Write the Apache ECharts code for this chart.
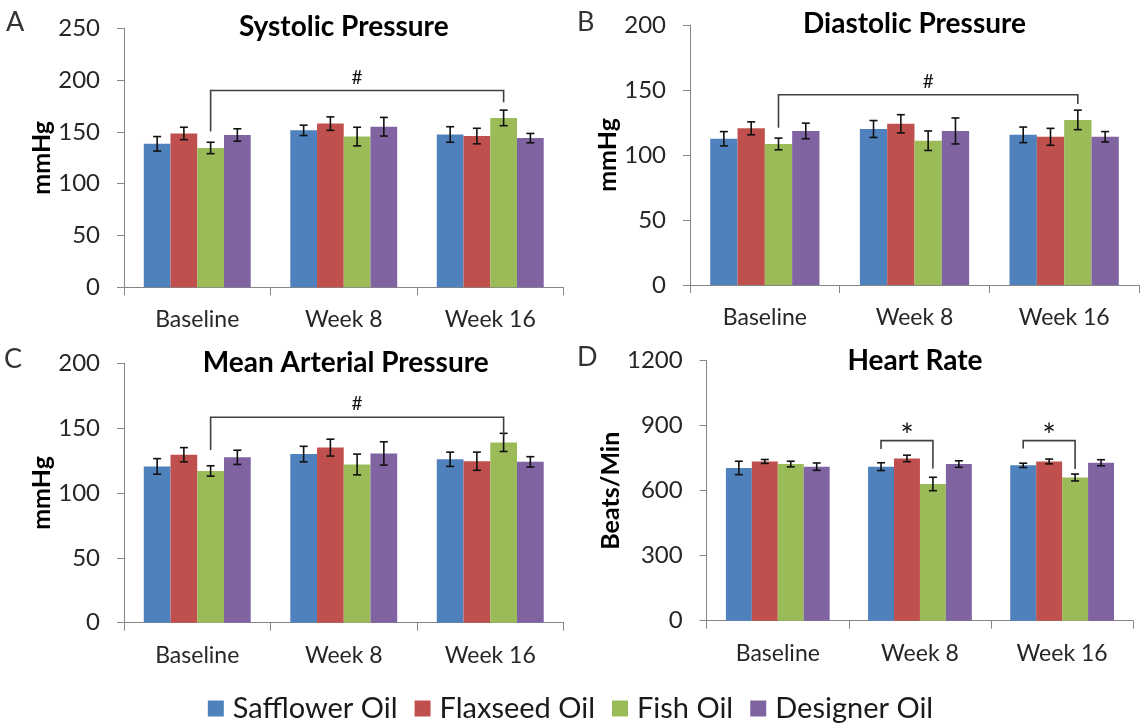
<!DOCTYPE html>
<html>
<head>
<meta charset="utf-8">
<script src="https://cdn.jsdelivr.net/npm/echarts@6/dist/echarts.min.js"></script>
<style>
html,body{margin:0;padding:0;background:#fff;}
#chart{width:1141px;height:724px;}
</style>
</head>
<body>
<div id="chart"></div>
<script>
// ---------- DATA ----------
const categories = ['Baseline', 'Week 8', 'Week 16'];
const oils = ['Safflower Oil', 'Flaxseed Oil', 'Fish Oil', 'Designer Oil'];

// each row = one oil, values for [Baseline, Week 8, Week 16]
const systolicMean = [[138.5, 151.5, 147.5], [148.5, 158, 146], [134.5, 145.5, 163.5], [147, 155, 144]];
const systolicErr  = [[7, 5, 7.5], [6, 6.5, 7.5], [5.5, 9, 7.5], [6, 9, 4.5]];
const diastolicMean = [[112.5, 120, 115.5], [120.5, 124, 114], [108.5, 111, 127], [118.5, 118.5, 114]];
const diastolicErr  = [[5.5, 6.5, 6], [5, 7, 6.5], [4.5, 7.5, 7.5], [6, 10, 4]];
const mapMean = [[120.5, 130, 126], [129.5, 135, 124.5], [117, 122, 139], [127.5, 130.5, 124]];
const mapErr  = [[6, 6, 5.5], [5.5, 6.5, 7], [4, 8, 7], [5.5, 9, 4]];
const hrMean = [[705, 711, 717], [735, 749, 735], [723, 631, 661], [711, 723, 729]];
const hrErr  = [[31, 18, 10], [9, 15, 11], [13, 31, 16], [17, 15, 14]];

// brackets: [category1, oil1, category2, oil2, top value, left leg end, right leg end]
const systolicBracket = [[0, 2, 2, 2, 190, 150.5, 178.5]];
const diastolicBracket = [[0, 2, 2, 2, 146.4, 121, 139.2]];
const mapBracket = [[0, 2, 2, 2, 158.4, 133.2, 144.2]];
const hrBracket = [[1, 0, 1, 2, 831, 792, 703], [2, 0, 2, 2, 831, 795, 700]];
const systolicMark = ['#'];
const diastolicMark = ['#'];
const mapMark = ['#'];
const hrMark = ['*', '*'];

// ---------- STYLE / LAYOUT ----------
const colors = ['#4F81BD', '#C0504D', '#9BBB59', '#8064A2'];
const FONT = 'Lato';
const GAP = 0.27;
const panels = [
  {title: 'Systolic Pressure', letter: 'A', yName: 'mmHg', max: 250, interval: 50, mean: systolicMean, err: systolicErr, br: systolicBracket, mk: systolicMark,
   grid: {left: 124, top: 28.3, width: 439.5, height: 259}, nameGap: 63, titleY: 27, titleDX: 0, letterPos: [6, 22], markSize: 19},
  {title: 'Diastolic Pressure', letter: 'B', yName: 'mmHg', max: 200, interval: 50, mean: diastolicMean, err: diastolicErr, br: diastolicBracket, mk: diastolicMark,
   grid: {left: 690, top: 25, width: 449, height: 260}, nameGap: 63, titleY: 24, titleDX: 0, letterPos: [577, 22], markSize: 19},
  {title: 'Mean Arterial Pressure', letter: 'C', yName: 'mmHg', max: 200, interval: 50, mean: mapMean, err: mapErr, br: mapBracket, mk: mapMark,
   grid: {left: 124, top: 363.3, width: 439.5, height: 259.4}, nameGap: 63, titleY: 363, titleDX: 2, letterPos: [4, 359], markSize: 19},
  {title: 'Heart Rate', letter: 'D', yName: 'Beats/Min', max: 1200, interval: 300, mean: hrMean, err: hrErr, br: hrBracket, mk: hrMark,
   grid: {left: 706.7, top: 360.7, width: 426.5, height: 260}, nameGap: 77, titleY: 361, titleDX: -5, letterPos: [577, 357], markSize: 32}
];

function barOffset(api, s) {
  const band = api.size([1, 0])[0];
  const bw = band * (1 - GAP) / 4;
  return (s - 1.5) * bw;
}

const grids = [], xAxes = [], yAxes = [], series = [], graphics = [];
panels.forEach((p, pi) => {
  grids.push(Object.assign({}, p.grid));
  xAxes.push({
    type: 'category', gridIndex: pi, data: categories,
    axisLine: {lineStyle: {color: '#868686', width: 1}},
    axisTick: {show: true, length: 8, lineStyle: {color: '#868686'}},
    axisLabel: {fontFamily: FONT, fontSize: 23, color: '#262626', margin: 21}
  });
  yAxes.push({
    type: 'value', gridIndex: pi, min: 0, max: p.max, interval: p.interval,
    name: p.yName, nameLocation: 'middle', nameGap: p.nameGap, nameRotate: 90,
    nameTextStyle: {fontFamily: FONT, fontSize: 25, fontWeight: 'bold', color: '#000'},
    axisLine: {show: true, lineStyle: {color: '#868686', width: 1}},
    axisTick: {show: true, length: 7, lineStyle: {color: '#868686'}},
    splitLine: {show: false},
    axisLabel: {fontFamily: FONT, fontSize: 24, color: '#262626', margin: 24, formatter: v => String(v)}
  });
  p.mean.forEach((vals, s) => {
    series.push({
      type: 'bar', name: oils[s], xAxisIndex: pi, yAxisIndex: pi,
      data: vals, barGap: '0%', barCategoryGap: (GAP * 100) + '%',
      itemStyle: {color: colors[s]}, silent: true
    });
  });
  const errData = [];
  p.mean.forEach((vals, s) => vals.forEach((m, c) => errData.push([c, m, p.err[s][c], s])));
  series.push({
    type: 'custom', xAxisIndex: pi, yAxisIndex: pi, data: errData, z: 10,
    encode: {x: 0, y: 1}, silent: true,
    renderItem: function (params, api) {
      const c = api.value(0), m = api.value(1), e = api.value(2), s = api.value(3);
      const hi = api.coord([c, m + e]);
      const lo = api.coord([c, m - e]);
      const x = hi[0] + barOffset(api, s);
      const hw = 4;
      const st = {stroke: '#111', lineWidth: 1.6};
      return {type: 'group', children: [
        {type: 'line', shape: {x1: x, y1: hi[1], x2: x, y2: lo[1]}, style: st},
        {type: 'line', shape: {x1: x - hw, y1: hi[1], x2: x + hw, y2: hi[1]}, style: st},
        {type: 'line', shape: {x1: x - hw, y1: lo[1], x2: x + hw, y2: lo[1]}, style: st}
      ]};
    }
  });
  const marks = p.mk;
  const msize = p.markSize;
  series.push({
    type: 'custom', xAxisIndex: pi, yAxisIndex: pi, data: p.br, z: 11,
    encode: {x: 0, y: 4}, silent: true, clip: false,
    renderItem: function (params, api) {
      const c1 = api.value(0), s1 = api.value(1), c2 = api.value(2), s2 = api.value(3);
      const top = api.value(4), le = api.value(5), re = api.value(6);
      const x1 = api.coord([c1, top])[0] + barOffset(api, s1);
      const x2 = api.coord([c2, top])[0] + barOffset(api, s2);
      const yt = api.coord([c1, top])[1];
      const yl = api.coord([c1, le])[1];
      const yr = api.coord([c2, re])[1];
      const label = marks[params.dataIndex];
      const ty = label === '*' ? yt - 4 : yt - 13;
      return {type: 'group', children: [
        {type: 'polyline', shape: {points: [[x1, yl], [x1, yt], [x2, yt], [x2, yr]]},
         style: {stroke: '#404040', lineWidth: 1.6, fill: null}},
        {type: 'text', x: (x1 + x2) / 2, y: ty,
         style: {text: label, fontFamily: FONT, fontSize: msize, fill: '#111', align: 'center', verticalAlign: 'middle'}}
      ]};
    }
  });
  const g = p.grid;
  graphics.push({
    type: 'text', x: g.left + g.width / 2 + p.titleDX, y: p.titleY,
    style: {text: p.title, fontFamily: FONT, fontSize: 28, fontWeight: 'bold', fill: '#000', align: 'center', verticalAlign: 'middle'}
  });
  graphics.push({
    type: 'text', x: p.letterPos[0], y: p.letterPos[1],
    style: {text: p.letter, fontFamily: FONT, fontSize: 27, fill: '#333', align: 'left', verticalAlign: 'middle'}
  });
});

const chart = echarts.init(document.getElementById('chart'), null, {renderer: 'canvas'});
chart.setOption({
  animation: false,
  backgroundColor: '#fff',
  grid: grids,
  xAxis: xAxes,
  yAxis: yAxes,
  series: series,
  graphic: graphics,
  legend: {
    data: oils, left: 'center', top: 689, icon: 'rect', itemWidth: 16, itemHeight: 16, itemGap: 17,
    textStyle: {fontFamily: FONT, fontSize: 29, color: '#1a1a1a', padding: [0, 0, 0, 4]}, selectedMode: false
  }
});
</script>
</body>
</html>
